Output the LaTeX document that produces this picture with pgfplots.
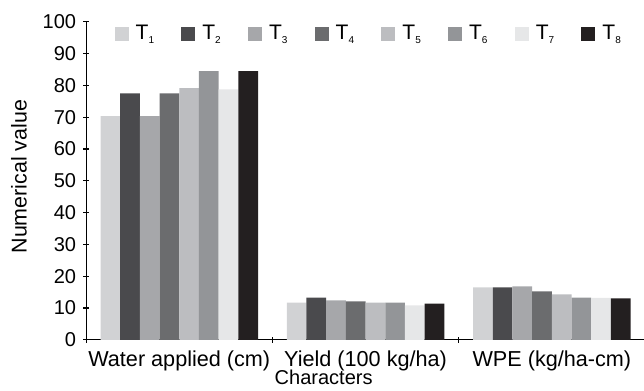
\documentclass[border=0pt]{standalone}
\usepackage{pgfplots}
\pgfplotsset{compat=1.18}
\usepackage{fontspec}
\setmainfont{Liberation Sans}
\definecolor{c1}{HTML}{D1D2D4}
\definecolor{c2}{HTML}{4A4A4D}
\definecolor{c3}{HTML}{A6A7AA}
\definecolor{c4}{HTML}{6B6C6E}
\definecolor{c5}{HTML}{BCBDC0}
\definecolor{c6}{HTML}{939598}
\definecolor{c7}{HTML}{E6E7E8}
\definecolor{c8}{HTML}{231F20}
\newcommand\sub[1]{\raisebox{-1.8pt}{\fontsize{5}{6}\selectfont #1}}
\begin{document}
\begin{tikzpicture}
\begin{axis}[
  name=ax,
  scale only axis, width=279pt, height=158.8pt,
  ybar=0pt, bar width=9.83pt,
  xmin=-0.5, xmax=2.5, ymin=0, ymax=100,
  ytick={0,10,...,100},
  xtick={0,1,2},
  xticklabels={Water applied (cm), Yield (100 kg/ha), WPE (kg/ha-cm)},
  xticklabel style={font=\fontsize{10.8}{12}\selectfont, inner ysep=0pt, yshift=-3.6pt},
  major x tick style={draw=none},
  minor xtick={-0.5,0.5,1.5,2.5},
  tick align=outside, major tick length=3pt, minor tick length=3pt,
  axis lines=left, axis line style={-, black, line width=0.6pt},
  tick style={black, line width=0.6pt},
  font=\fontsize{10}{12}\selectfont,
  /pgf/number format/assume math mode=true,
  ylabel={Numerical value},
  ylabel style={at={(axis description cs:-0.12,0.513)}, anchor=center, font=\fontsize{10.7}{12}\selectfont},
  xlabel={Characters},
  xlabel style={at={(axis description cs:0.425,0)}, anchor=center, inner sep=0pt, yshift=-18.6pt},
  every axis plot/.append style={draw=none,
    legend image code/.code={\fill[##1] (0pt,-3.5pt) rectangle (7pt,3.5pt);}},
  legend columns=8,
  legend style={draw=none, fill=none, at={(rel axis cs:0.0395,0.961)}, anchor=west,
    font=\fontsize{10.5}{12}\selectfont,
    nodes={inner sep=0pt, anchor=west},
    /tikz/every odd column/.append style={column sep=3.5pt},
    /tikz/every even column/.append style={column sep=13.6pt}},
]
\addplot[fill=c1] coordinates {(0,70.3) (1,11.7) (2,16.5)};
\addplot[fill=c2] coordinates {(0,77.5) (1,13.3) (2,16.5)};
\addplot[fill=c3] coordinates {(0,70.3) (1,12.4) (2,16.8)};
\addplot[fill=c4] coordinates {(0,77.5) (1,12.1) (2,15.2)};
\addplot[fill=c5] coordinates {(0,79.1) (1,11.7) (2,14.3)};
\addplot[fill=c6] coordinates {(0,84.5) (1,11.7) (2,13.3)};
\addplot[fill=c7] coordinates {(0,78.7) (1,10.8) (2,13.2)};
\addplot[fill=c8] coordinates {(0,84.5) (1,11.4) (2,13.0)};
\legend{T\sub{1}, T\sub{2}, T\sub{3}, T\sub{4}, T\sub{5}, T\sub{6}, T\sub{7}, T\sub{8}}
\end{axis}
\pgfresetboundingbox
\path[use as bounding box] ([shift={(-43pt,-25.35pt)}]ax.south west) rectangle ([shift={(-0.5pt,10.85pt)}]ax.north east);
\end{tikzpicture}
\end{document}
